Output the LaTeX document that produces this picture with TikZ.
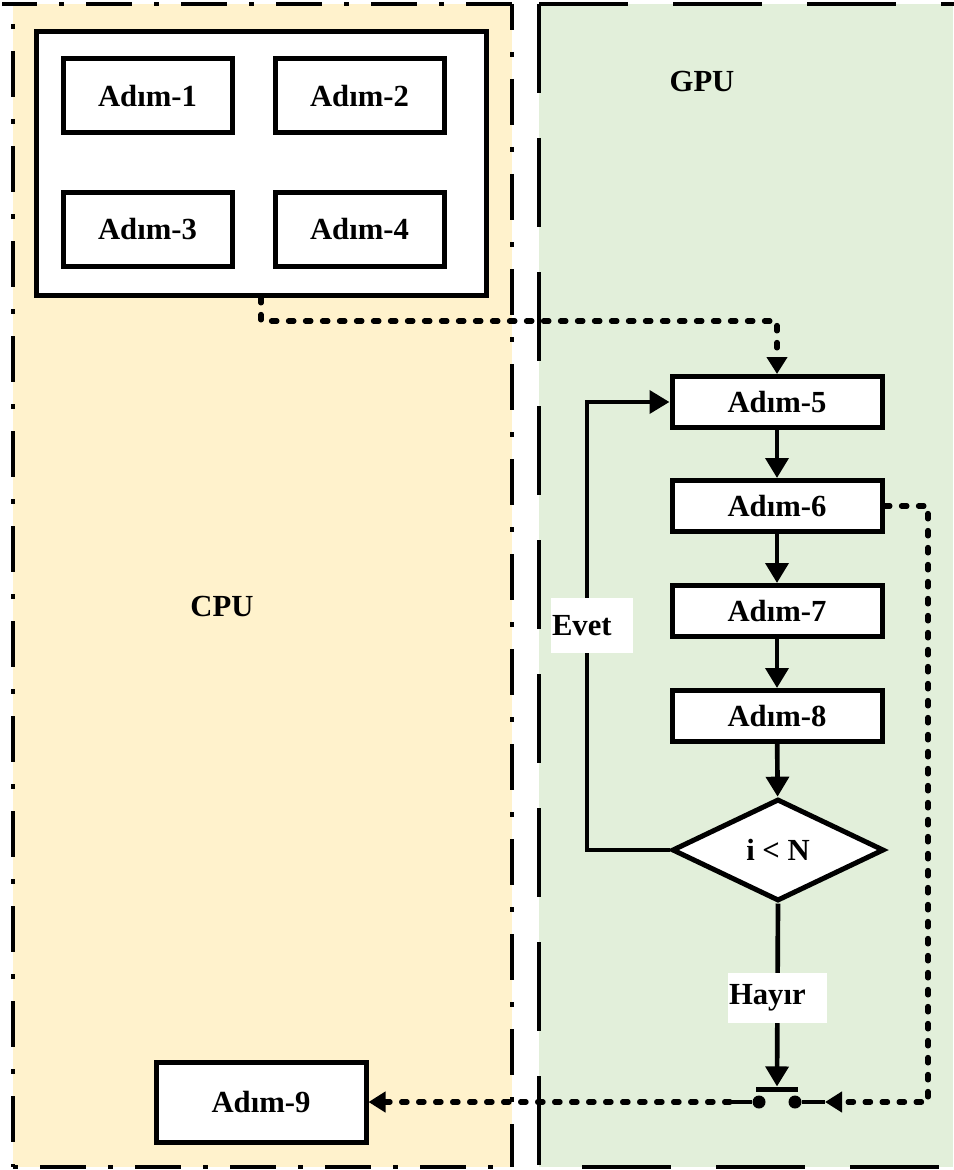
\documentclass[tikz,border=0pt]{standalone}
\usepackage{fontspec}
\setmainfont{Liberation Serif}
\usetikzlibrary{shapes.geometric,arrows.meta}
\definecolor{cpufill}{HTML}{FFF2CC}
\definecolor{gpufill}{HTML}{E2EFDA}

\begin{document}
\begin{tikzpicture}[x=0.75pt,y=-0.75pt,
  every node/.style={font=\fontsize{23}{27}\selectfont\bfseries},
  cpuline/.style={line width=3.6pt, dash pattern=on 34.5pt off 16.5pt on 3.75pt off 16.5pt},
  gpuline/.style={line width=3.6pt, dash pattern=on 66.75pt off 33.75pt},
  stepbox/.style={draw, line width=3.75pt, fill=white, inner sep=0,
                  minimum width=157.5pt, minimum height=38.25pt},
  smallbox/.style={draw, line width=3.75pt, fill=white, inner sep=0,
                   minimum width=126.75pt, minimum height=55.5pt},
  flow/.style={line width=3.5pt, -{Triangle[length=15pt,width=17pt]}},
  link/.style={line width=4pt, line cap=round, line join=round,
               dash pattern=on 4pt off 8.75pt},
  linktip/.style={-{Triangle[length=12.75pt,width=15pt]}},
  tag/.style={fill=white, inner ysep=0, align=left}
]
\useasboundingbox (0,0) rectangle (953,1170);

% regions
\fill[cpufill] (13,4) rectangle (512,1167);
\fill[gpufill] (539,4) rectangle (953,1167);

% CPU border (dash-dot)
\draw[cpuline, dash phase=8pt] (2,4) -- (512,4);
\draw[cpuline, dash phase=15pt] (512,4) -- (512,1167);
\draw[cpuline, dash phase=36pt] (13,4) -- (13,1167);
\draw[cpuline, dash phase=51pt] (13,1167) -- (512,1167);

% GPU border (long dashes)
\draw[gpuline] (539,4) -- (1000,4);
\draw[gpuline] (539,4) -- (539,1167);
\draw[gpuline, dash phase=68.25pt] (539,1167) -- (1000,1167);

% region titles
\node (cpu) at (222,606) {CPU};
\node (gpu) at (702,81) {GPU};

% CPU preparation steps
\node[draw, line width=3.75pt, fill=white, inner sep=0,
      minimum width=337.5pt, minimum height=197.25pt] (outer) at (261,163.5) {};
\node[smallbox] (a1) at (147.5,96) {Adım-1};
\node[smallbox] (a2) at (359.5,96) {Adım-2};
\node[smallbox] (a3) at (147.5,229) {Adım-3};
\node[smallbox] (a4) at (359.5,229) {Adım-4};

% GPU loop
\node[stepbox] (a5) at (777,402) {Adım-5};
\node[stepbox] (a6) at (777,506) {Adım-6};
\node[stepbox] (a7) at (777,611) {Adım-7};
\node[stepbox] (a8) at (777,716) {Adım-8};
\node[diamond, draw, line width=3.75pt, fill=white, inner sep=0,
      minimum width=159pt, minimum height=76.5pt] (dec) at (778,850) {i < N};

% final step
\node[draw, line width=3.75pt, fill=white, inner sep=0,
      minimum width=157.5pt, minimum height=60pt] (a9) at (261,1102) {Adım-9};

% switch
\node[fill, inner sep=0, minimum width=31.5pt, minimum height=4.2pt] (bar) at (777,1089.5) {};
\node[circle, fill, inner sep=0, minimum size=9.75pt] (c1) at (759,1102) {};
\node[circle, fill, inner sep=0, minimum size=9.75pt] (c2) at (795,1102) {};

% helper points
\coordinate (k1) at (261,321);
\coordinate (ev) at (587,850);
\coordinate (r1) at (928,506);
\coordinate (r2) at (928,1102);
\coordinate (s1) at (730,1102);
\coordinate (s2) at (825,1102);

% solid flow
\draw[flow] (a5) -- (a6);
\draw[flow] (a6) -- (a7);
\draw[flow] (a7) -- (a8);
\draw[flow] (a8) -- (dec);
\draw[flow] (dec.west) -- (ev) |- (a5);
\draw[flow] (dec.south) -- (bar.north);
\draw[line width=3.5pt] (c1) -- (s1);
\draw[line width=3.5pt] (c2) -- (s2);

% data transfers
\draw[link, linktip] (outer.south) -- (k1) -| (a5.north);
\draw[link, linktip] (a6.east) -- (r1) -- (r2) -- (s2);
\draw[link, linktip] (s1) -- (a9.east);

% branch labels
\node[tag, inner xsep=0.75pt, text width=60pt, minimum height=41.25pt] (evet) at (592,625.5) {Evet};
\node[tag, inner xsep=0.75pt, text width=72.75pt, minimum height=37.5pt] (hayir) at (777.5,998) {Hayır};
\end{tikzpicture}
\end{document}
